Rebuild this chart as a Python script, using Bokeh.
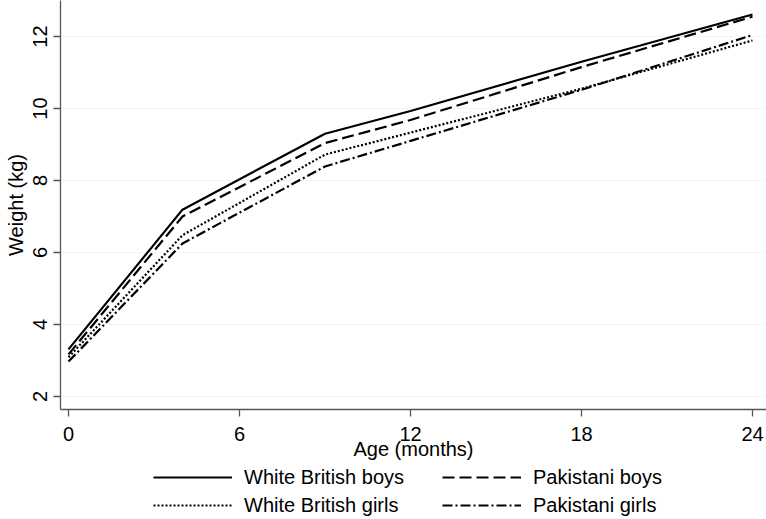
from bokeh.plotting import figure
from bokeh.layouts import column
from bokeh.models import Range1d, FixedTicker, Legend, LegendItem
from bokeh.embed import file_html
from bokeh.resources import INLINE

# ---- data ----
months = [0, 4, 9, 12, 18, 24]
wb_boys = [3.31, 7.19, 9.30, 9.93, 11.30, 12.61]
pk_boys = [3.17, 7.00, 9.04, 9.68, 11.15, 12.55]
wb_girls = [3.09, 6.48, 8.72, 9.33, 10.55, 11.89]
pk_girls = [2.97, 6.25, 8.39, 9.10, 10.52, 12.04]

x_ticks = [0, 6, 12, 18, 24]
y_ticks = [2, 4, 6, 8, 10, 12]
labels = ["White British boys", "Pakistani boys", "White British girls", "Pakistani girls"]

FONT = "Liberation Sans"
AX = "#555555"

W = 766
H_MAIN = 464
H_LEG = 55
border_left = 60
frame_bottom = 409
px_per_month = 28.5
x0 = (border_left - 68) / px_per_month
x1 = (W - 68) / px_per_month
y1 = 2 + 396 / 36.0
y0 = 2 - (frame_bottom - 396) / 36.0

p = figure(width=W, height=H_MAIN, output_backend="svg", toolbar_location=None,
           x_range=Range1d(x0, x1), y_range=Range1d(y0, y1),
           min_border_left=border_left, min_border_right=0,
           min_border_top=0, min_border_bottom=H_MAIN - frame_bottom)
p.outline_line_color = None
p.background_fill_color = "white"
p.border_fill_color = "white"
p.xgrid.visible = False
p.ygrid.grid_line_color = "#f4f4f4"
p.ygrid.ticker = FixedTicker(ticks=y_ticks)

for ax in (p.xaxis[0], p.yaxis[0]):
    ax.axis_line_color = AX
    ax.axis_line_width = 1.3
    ax.major_tick_line_color = AX
    ax.major_tick_line_width = 1.3
    ax.major_tick_out = 7
    ax.major_tick_in = 0
    ax.minor_tick_line_color = None
    ax.major_label_text_font = FONT
    ax.major_label_text_font_size = "20px"
    ax.major_label_text_color = "black"
    ax.axis_label_text_font = FONT
    ax.axis_label_text_font_size = "20px"
    ax.axis_label_text_font_style = "normal"
    ax.axis_label_text_color = "black"

p.xaxis.ticker = FixedTicker(ticks=x_ticks)
p.yaxis.ticker = FixedTicker(ticks=y_ticks)
p.xaxis.axis_label = "Age (months)"
p.yaxis.axis_label = "Weight (kg)"
p.xaxis.major_label_standoff = 10
p.xaxis.axis_label_standoff = -6
p.yaxis.major_label_orientation = "vertical"
p.yaxis.major_label_standoff = 7
p.yaxis.axis_label_standoff = 3

styles = [dict(line_dash="solid"), dict(line_dash="12 5"),
          dict(line_dash="2 2"), dict(line_dash="10 3 2 3")]
series = [wb_boys, pk_boys, wb_girls, pk_girls]
for ys, st in zip(series, styles):
    p.line(months, ys, line_color="black", line_width=2.2, **st)

# ---- legend strip below the plot (frames are aligned by the column) ----
q = figure(width=W, height=H_LEG, output_backend="svg", toolbar_location=None,
           x_range=Range1d(0, 1), y_range=Range1d(0, 1),
           min_border_left=0, min_border_right=0, min_border_top=0, min_border_bottom=0)
q.axis.visible = False
q.grid.visible = False
q.outline_line_color = None
q.background_fill_color = "white"
q.border_fill_color = "white"
rend = {}
for lab, st in zip(labels, styles):
    rend[lab] = q.line(x=[float("nan")], y=[float("nan")], line_color="black",
                       line_width=2.2, **st)
order = [labels[0], labels[2], labels[1], labels[3]]  # column-major fill
items = [LegendItem(label=lab, renderers=[rend[lab]]) for lab in order]
legend = Legend(items=items, ncols=2, location=(153 - border_left, 0),
                border_line_color=None, background_fill_alpha=0,
                padding=0, margin=0, spacing=0,
                glyph_width=79, glyph_height=28, label_height=28,
                label_width=198, label_standoff=12,
                label_text_font=FONT, label_text_font_size="20px",
                label_text_color="black")
q.add_layout(legend)

layout = column(p, q, spacing=0)
open("out.html", "w").write(file_html(layout, INLINE))
